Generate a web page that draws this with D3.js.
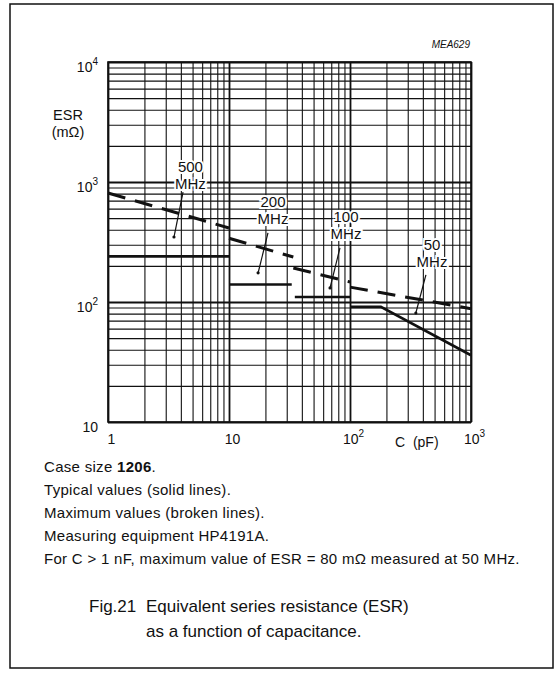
<!DOCTYPE html>
<html>
<head>
<meta charset="utf-8">
<script src="https://cdn.jsdelivr.net/npm/d3@7"></script>
<style>
  body { margin: 0; background: #fff; }
  svg text { font-family: "Liberation Sans", Arial, sans-serif; fill: #111; }
</style>
</head>
<body>
<div id="chart"></div>
<script>
// Decade tick labels (exponents)
const xTicks = [1, 10, 100, 1000];
const yTicks = [10, 100, 1000, 10000];

// Measuring frequency of each curve
const frequencies = ["500", "200", "100", "50"];

// Typical values (solid lines), [C in pF, ESR in mOhm]
const typical500 = [[1, 240], [10, 240]];
const typical200 = [[10, 140], [33, 140]];
const typical100 = [[35, 110], [100, 110]];
const typical50 = [[100, 91], [180, 91], [1000, 36]];

// Maximum values (broken lines)
const maximum500 = [[1, 810], [10, 414]];
const maximum200 = [[10, 340], [34, 237]];
const maximum100 = [[34, 192], [100, 147]];
const maximum50 = [[100, 133], [1000, 88]];

const notes = [
  "Typical values (solid lines).",
  "Maximum values (broken lines).",
  "Measuring equipment HP4191A.",
  "For C > 1 nF, maximum value of ESR = 80 m\u03A9 measured at 50 MHz."
];

const drawChart = () => {

  /*******************************/
  /*    Declare the constants    */
  /*******************************/
  const width = 559;
  const height = 693;
  const margin = {top: 62, left: 108};
  const innerWidth = 363;
  const innerHeight = 360;
  const ink = "#111";

  /*******************************/
  /*    Append the containers    */
  /*******************************/
  const svg = d3.select("#chart")
    .append("svg")
      .attr("width", width)
      .attr("height", height);

  // Outer frame of the figure
  svg
    .append("rect")
      .attr("x", 10)
      .attr("y", 4)
      .attr("width", 543)
      .attr("height", 664)
      .attr("fill", "none")
      .attr("stroke", ink)
      .attr("stroke-width", 1.5);

  const innerChart = svg
    .append("g")
      .attr("transform", `translate(${margin.left}, ${margin.top})`);

  /****************************/
  /*    Declare the scales    */
  /****************************/
  const xScale = d3.scaleLog()
    .domain([1, 1000])
    .range([0, innerWidth]);

  const yScale = d3.scaleLog()
    .domain([10, 10000])
    .range([innerHeight, 0]);

  /**************************/
  /*      Add the grid      */
  /**************************/
  const xGrid = [];
  xTicks.slice(0, -1).forEach(d => d3.range(1, 10).forEach(m => xGrid.push(d * m)));
  xGrid.push(1000);
  const yGrid = [];
  yTicks.slice(0, -1).forEach(d => d3.range(1, 10).forEach(m => yGrid.push(d * m)));
  yGrid.push(10000);

  const isDecade = v => Math.abs(Math.log10(v) - Math.round(Math.log10(v))) < 1e-9;

  const xGridAxis = innerChart
    .append("g")
      .attr("transform", `translate(0, ${innerHeight})`)
      .call(d3.axisBottom(xScale).tickValues(xGrid).tickSize(-innerHeight).tickFormat(""));
  const yGridAxis = innerChart
    .append("g")
      .call(d3.axisLeft(yScale).tickValues(yGrid).tickSize(-innerWidth).tickFormat(""));

  [xGridAxis, yGridAxis].forEach(g => {
    g.select(".domain").remove();
    g.selectAll(".tick line")
      .attr("stroke", ink)
      .attr("stroke-width", d => isDecade(d) ? 1.8 : 1.1);
  });

  // Plot frame
  innerChart
    .append("rect")
      .attr("width", innerWidth)
      .attr("height", innerHeight)
      .attr("fill", "none")
      .attr("stroke", ink)
      .attr("stroke-width", 1.6);

  /**************************/
  /*      Add the axes      */
  /**************************/
  const powerLabel = (selection, v) => {
    const exp = Math.round(Math.log10(v));
    selection.text(null);
    if (exp === 0) {
      selection.append("tspan").text("1");
    } else if (exp === 1) {
      selection.append("tspan").text("10");
    } else {
      selection.append("tspan").text("10");
      selection.append("tspan")
        .attr("dy", -7)
        .attr("font-size", 10)
        .text(exp);
    }
  };

  const bottomAxis = d3.axisBottom(xScale)
    .tickValues(xTicks)
    .tickSize(0)
    .tickPadding(12);
  const bottomG = innerChart
    .append("g")
      .attr("transform", `translate(3, ${innerHeight})`)
      .call(bottomAxis);
  bottomG.select(".domain").remove();
  bottomG.selectAll(".tick text")
    .attr("font-size", 14)
    .attr("font-family", null)
    .attr("fill", ink)
    .each(function(d) { powerLabel(d3.select(this), d); });

  const leftAxis = d3.axisLeft(yScale)
    .tickValues(yTicks)
    .tickSize(0)
    .tickPadding(8);
  const leftG = innerChart
    .append("g")
      .attr("transform", "translate(-2, 5)")
      .call(leftAxis);
  leftG.select(".domain").remove();
  leftG.selectAll(".tick text")
    .attr("font-size", 14)
    .attr("font-family", null)
    .attr("fill", ink)
    .each(function(d) { powerLabel(d3.select(this), d); });

  // Axis titles
  svg
    .append("text")
      .attr("x", 68)
      .attr("y", 120)
      .attr("text-anchor", "middle")
      .attr("font-size", 14.5)
      .text("ESR");
  svg
    .append("text")
      .attr("x", 68)
      .attr("y", 137)
      .attr("text-anchor", "middle")
      .attr("font-size", 14.5)
      .text("(m\u03A9)");
  svg
    .append("text")
      .attr("x", 395)
      .attr("y", 447)
      .attr("font-size", 14)
      .attr("xml:space", "preserve")
      .text("C  (pF)");
  svg
    .append("text")
      .attr("x", 470)
      .attr("y", 48)
      .attr("text-anchor", "end")
      .attr("font-size", 10)
      .attr("font-style", "italic")
      .text("MEA629");

  /******************************/
  /*      Add the curves        */
  /******************************/
  const lineGenerator = d3.line()
    .x(d => xScale(d[0]))
    .y(d => yScale(d[1]));

  [typical500, typical200, typical100, typical50].forEach(series => {
    innerChart
      .append("path")
        .attr("d", lineGenerator(series))
        .attr("fill", "none")
        .attr("stroke", ink)
        .attr("stroke-width", 2.6);
  });

  [maximum500, maximum200, maximum100, maximum50].forEach(series => {
    innerChart
      .append("path")
        .attr("d", lineGenerator(series))
        .attr("fill", "none")
        .attr("stroke", ink)
        .attr("stroke-width", 3)
        .attr("stroke-dasharray", "18 10");
  });

  /******************************/
  /*      Add the labels        */
  /******************************/
  // Label centre and leader line ends, in data coordinates
  const labelSpecs = [
    {freq: frequencies[0], at: [4.8, 1334], from: [4.17, 825], to: [3.51, 348]},
    {freq: frequencies[1], at: [23.1, 681], from: [21.0, 376], to: [17.4, 175]},
    {freq: frequencies[2], at: [92.7, 511], from: [82.6, 282], to: [68.4, 131]},
    {freq: frequencies[3], at: [476, 299], from: [424, 168], to: [350, 81]}
  ];

  labelSpecs.forEach(spec => {
    const cx = xScale(spec.at[0]);
    const cy = yScale(spec.at[1]);
    [spec.freq, "MHz"].forEach((t, i) => {
      innerChart
        .append("text")
          .attr("x", cx)
          .attr("y", cy + 5 + i * 17)
          .attr("text-anchor", "middle")
          .attr("font-size", 15)
          .attr("stroke", "#fff")
          .attr("stroke-width", 4)
          .attr("paint-order", "stroke")
          .text(t);
    });
    innerChart
      .append("line")
        .attr("x1", xScale(spec.from[0]))
        .attr("y1", yScale(spec.from[1]))
        .attr("x2", xScale(spec.to[0]))
        .attr("y2", yScale(spec.to[1]))
        .attr("stroke", ink)
        .attr("stroke-width", 1.2);
    innerChart
      .append("circle")
        .attr("cx", xScale(spec.to[0]))
        .attr("cy", yScale(spec.to[1]))
        .attr("r", 1.6)
        .attr("fill", ink);
  });

  /******************************/
  /*      Add the notes         */
  /******************************/
  const noteSize = 15;
  const first = svg
    .append("text")
      .attr("x", 44)
      .attr("y", 472)
      .attr("font-size", noteSize)
      .attr("letter-spacing", 0.3);
  first.append("tspan").text("Case size ");
  first.append("tspan").attr("font-weight", "bold").text("1206");
  first.append("tspan").text(".");

  notes.forEach((t, i) => {
    svg
      .append("text")
        .attr("x", 44)
        .attr("y", 495 + i * 23)
        .attr("font-size", noteSize)
        .attr("letter-spacing", 0.3)
        .text(t);
  });

  svg
    .append("text")
      .attr("x", 89)
      .attr("y", 612)
      .attr("font-size", 17)
      .text("Fig.21");
  svg
    .append("text")
      .attr("x", 146)
      .attr("y", 612)
      .attr("font-size", 17)
      .text("Equivalent series resistance (ESR)");
  svg
    .append("text")
      .attr("x", 146)
      .attr("y", 637)
      .attr("font-size", 17)
      .text("as a function of capacitance.");
};

drawChart();
</script>
</body>
</html>
